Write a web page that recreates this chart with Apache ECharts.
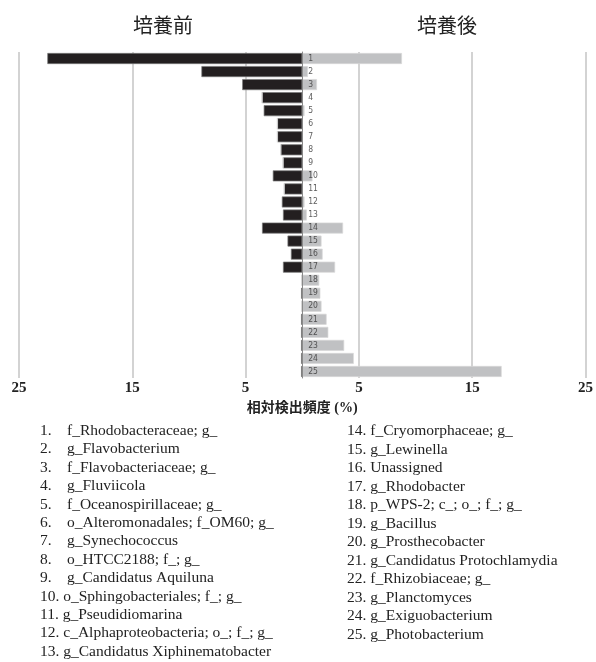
<!DOCTYPE html>
<html>
<head>
<meta charset="utf-8">
<script src="https://cdn.jsdelivr.net/npm/echarts@6/dist/echarts.min.js"></script>
<style>
  html, body { margin: 0; padding: 0; background: #fff; }
  #chart { width: 596px; height: 662px; }
</style>
</head>
<body>
<div id="chart"></div>
<script>
// 分類群 1〜25
const categories = ['1','2','3','4','5','6','7','8','9','10','11','12','13','14','15','16','17','18','19','20','21','22','23','24','25'];
// 培養前 (%)
const before = [22.5, 8.9, 5.3, 3.55, 3.4, 2.2, 2.2, 1.9, 1.7, 2.6, 1.6, 1.8, 1.7, 3.55, 1.3, 1.0, 1.7, 0, 0.1, 0, 0.1, 0.1, 0.1, 0.1, 0.1];
// 培養後 (%)
const after = [8.8, 0.5, 1.3, 0, 0.2, 0, 0, 0, 0, 0.9, 0, 0.2, 0.4, 3.6, 1.7, 1.8, 2.9, 1.5, 1.6, 1.7, 2.15, 2.3, 3.7, 4.55, 17.6];
const taxaNames = [
  'f_Rhodobacteraceae; g_', 'g_Flavobacterium', 'f_Flavobacteriaceae; g_', 'g_Fluviicola',
  'f_Oceanospirillaceae; g_', 'o_Alteromonadales; f_OM60; g_', 'g_Synechococcus', 'o_HTCC2188; f_; g_',
  'g_Candidatus Aquiluna', 'o_Sphingobacteriales; f_; g_', 'g_Pseudidiomarina',
  'c_Alphaproteobacteria; o_; f_; g_', 'g_Candidatus Xiphinematobacter',
  'f_Cryomorphaceae; g_', 'g_Lewinella', 'Unassigned', 'g_Rhodobacter', 'p_WPS-2; c_; o_; f_; g_',
  'g_Bacillus', 'g_Prosthecobacter', 'g_Candidatus Protochlamydia', 'f_Rhizobiaceae; g_',
  'g_Planctomyces', 'g_Exiguobacterium', 'g_Photobacterium'
];
const xTicks = [-25, -15, -5, 5, 15, 25];

const chart = echarts.init(document.getElementById('chart'));

const serif = 'Liberation Serif, Noto Sans CJK JP';
const listStyle = { fontFamily: 'Liberation Serif', fontSize: 15.5, fill: '#222' };

// 凡例リスト（下部）
const listItems = [];
taxaNames.forEach((name, i) => {
  const n = i + 1;
  if (n <= 13) {
    const y = 432 + i * 18.4;
    if (n < 10) {
      listItems.push({ type: 'text', left: 40, top: y - 9, style: Object.assign({ text: n + '.' }, listStyle) });
      listItems.push({ type: 'text', left: 67, top: y - 9, style: Object.assign({ text: name }, listStyle) });
    } else {
      listItems.push({ type: 'text', left: 40, top: y - 9, style: Object.assign({ text: n + '. ' + name }, listStyle) });
    }
  } else {
    const y = 432 + (i - 13) * 18.5;
    listItems.push({ type: 'text', left: 347, top: y - 9, style: Object.assign({ text: n + '. ' + name }, listStyle) });
  }
});

const option = {
  animation: false,
  grid: { left: 19, right: 5, top: 52, bottom: 284 },
  graphic: [
    { type: 'text', left: 133, top: 15, style: { text: '培養前', fontFamily: 'Noto Sans CJK JP', fontSize: 20, fill: '#222' } },
    { type: 'text', left: 417, top: 15, style: { text: '培養後', fontFamily: 'Noto Sans CJK JP', fontSize: 20, fill: '#222' } }
  ].concat(listItems),
  xAxis: {
    type: 'value',
    min: xTicks[0],
    max: xTicks[xTicks.length - 1],
    interval: 10,
    axisLine: { show: false },
    axisTick: { show: false },
    splitLine: { show: true, lineStyle: { color: '#c4c4c4', width: 1.5 } },
    axisLabel: {
      formatter: v => Math.abs(v),
      fontFamily: 'Liberation Serif',
      fontWeight: 'bold',
      fontSize: 15,
      color: '#222',
      margin: 3
    },
    name: '相対検出頻度 (%)',
    nameLocation: 'middle',
    nameGap: 23,
    nameTextStyle: { fontFamily: serif, fontWeight: 'bold', fontSize: 14, color: '#222' }
  },
  yAxis: {
    type: 'category',
    inverse: true,
    data: categories,
    axisLine: { onZero: true, lineStyle: { color: '#8a8a8a', width: 1 } },
    axisTick: { show: false },
    axisLabel: { show: false },
    z: 5
  },
  series: [
    {
      name: '培養前',
      type: 'bar',
      stack: 'all',
      barWidth: 11,
      data: before.map(v => -v),
      itemStyle: { color: '#231f20', borderColor: '#7a7a7a', borderWidth: 0.7 }
    },
    {
      name: '培養後',
      type: 'bar',
      stack: 'all',
      barWidth: 11,
      data: after,
      itemStyle: { color: '#c0c1c3', borderColor: '#d8d8d8', borderWidth: 0.7 }
    },
    {
      // 中央の番号ラベル
      type: 'scatter',
      symbolSize: 0,
      data: categories.map(c => [0, c]),
      label: {
        show: true,
        position: 'right',
        distance: 6,
        formatter: p => p.value[1],
        fontSize: 8.5,
        color: '#333',
        fontFamily: 'DejaVu Sans Condensed'
      },
      silent: true,
      z: 6
    }
  ]
};

chart.setOption(option);
</script>
</body>
</html>
